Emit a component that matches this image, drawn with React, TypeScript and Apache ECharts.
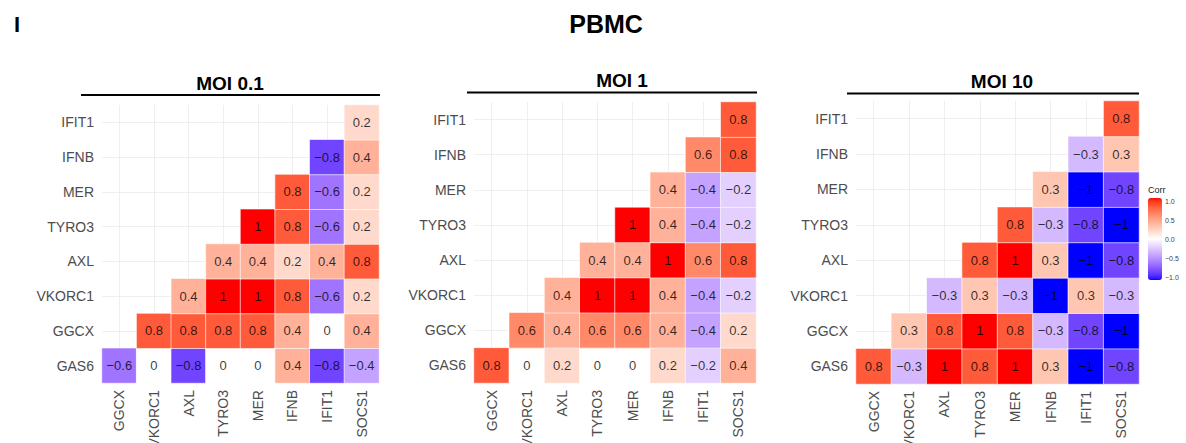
import React, { useEffect, useRef } from "react";
import * as echarts from "echarts";

// ---------- DATA ----------
const xCats = ["GGCX", "VKORC1", "AXL", "TYRO3", "MER", "IFNB", "IFIT1", "SOCS1"];
const yCats = ["GAS6", "GGCX", "VKORC1", "AXL", "TYRO3", "MER", "IFNB", "IFIT1"];

// each row (bottom GAS6 -> top IFIT1) starts at column index == row index
const moi01: number[][] = [
  [-0.6, 0, -0.8, 0, 0, 0.4, -0.8, -0.4],
  [0.8, 0.8, 0.8, 0.8, 0.4, 0, 0.4],
  [0.4, 1, 1, 0.8, -0.6, 0.2],
  [0.4, 0.4, 0.2, 0.4, 0.8],
  [1, 0.8, -0.6, 0.2],
  [0.8, -0.6, 0.2],
  [-0.8, 0.4],
  [0.2],
];
const moi1: number[][] = [
  [0.8, 0, 0.2, 0, 0, 0.2, -0.2, 0.4],
  [0.6, 0.4, 0.6, 0.6, 0.4, -0.4, 0.2],
  [0.4, 1, 1, 0.4, -0.4, -0.2],
  [0.4, 0.4, 1, 0.6, 0.8],
  [1, 0.4, -0.4, -0.2],
  [0.4, -0.4, -0.2],
  [0.6, 0.8],
  [0.8],
];
const moi10: number[][] = [
  [0.8, -0.3, 1, 0.8, 1, 0.3, -1, -0.8],
  [0.3, 0.8, 1, 0.8, -0.3, -0.8, -1],
  [-0.3, 0.3, -0.3, -1, 0.3, -0.3],
  [0.8, 1, 0.3, -1, -0.8],
  [0.8, -0.3, -0.8, -1],
  [0.3, -1, -0.8],
  [-0.3, 0.3],
  [0.8],
];
const panelTitles = ["MOI 0.1", "MOI 1", "MOI 10"];
const panelData = [moi01, moi1, moi10];
const legendTicks = [1.0, 0.5, 0.0, -0.5, -1.0];

// ---------- LAYOUT ----------
const panels = [
  { left: 102, top: 105, width: 277, height: 278, titleX: 230, titleY: 83, lineX1: 81, lineX2: 380, lineY: 95 },
  { left: 474, top: 102, width: 282, height: 281, titleX: 622, titleY: 80, lineX1: 467, lineX2: 757, lineY: 92.5 },
  { left: 856, top: 101, width: 283, height: 283, titleX: 1002, titleY: 81.5, lineX1: 847, lineX2: 1139, lineY: 93.5 },
];
const FONT = '"Liberation Sans", Arial, Helvetica, sans-serif';

// ---------- Lab colour interpolation (like ggplot's gradient2) ----------
function toLin(c: number) {
  c /= 255;
  return c <= 0.04045 ? c / 12.92 : Math.pow((c + 0.055) / 1.055, 2.4);
}
function fromLin(c: number) {
  const v = c <= 0.0031308 ? 12.92 * c : 1.055 * Math.pow(c, 1 / 2.4) - 0.055;
  return Math.max(0, Math.min(255, Math.round(v * 255)));
}
const XN = 0.95047, YN = 1, ZN = 1.08883;
function rgbToLab(rgb: number[]) {
  const [r, g, b] = rgb.map(toLin);
  const X = 0.4124 * r + 0.3576 * g + 0.1805 * b;
  const Y = 0.2126 * r + 0.7152 * g + 0.0722 * b;
  const Z = 0.0193 * r + 0.1192 * g + 0.9505 * b;
  const f = (t: number) => (t > 0.008856 ? Math.cbrt(t) : 7.787 * t + 16 / 116);
  const fx = f(X / XN), fy = f(Y / YN), fz = f(Z / ZN);
  return [116 * fy - 16, 500 * (fx - fy), 200 * (fy - fz)];
}
function labToHex(lab: number[]) {
  const [L, a, b] = lab;
  const fy = (L + 16) / 116;
  const fx = fy + a / 500;
  const fz = fy - b / 200;
  const finv = (t: number) => (t * t * t > 0.008856 ? t * t * t : (t - 16 / 116) / 7.787);
  const X = finv(fx) * XN, Y = finv(fy) * YN, Z = finv(fz) * ZN;
  const r = 3.2406 * X - 1.5372 * Y - 0.4986 * Z;
  const g = -0.9689 * X + 1.8758 * Y + 0.0415 * Z;
  const bb = 0.0557 * X - 0.204 * Y + 1.057 * Z;
  const h = (v: number) => fromLin(v).toString(16).padStart(2, "0");
  return "#" + h(r) + h(g) + h(bb);
}
const LAB_W = rgbToLab([255, 255, 255]);
const LAB_R = rgbToLab([255, 0, 0]);
const LAB_B = rgbToLab([0, 0, 255]);
function corrColor(v: number) {
  const t = Math.abs(v);
  const end = v < 0 ? LAB_B : LAB_R;
  return labToHex(LAB_W.map((w, i) => w + (end[i] - w) * t));
}
const colorStops: string[] = [];
for (let i = 0; i <= 40; i++) colorStops.push(corrColor(-1 + i * 0.05));

function fmt(v: number) {
  return (v < 0 ? "\u2212" : "") + String(Math.abs(v));
}

export default function App() {
  const ref = useRef<HTMLDivElement>(null);
  useEffect(() => {
    document.body.style.margin = "0";
    const chart = echarts.init(ref.current!, null, { renderer: "svg" });

    const grids = panels.map((p) => ({
      left: p.left,
      top: p.top,
      width: p.width,
      height: p.height,
      containLabel: false,
      outerBoundsMode: "none",
    }));
    const xAxes = panels.map((_, i) => ({
      type: "category",
      gridIndex: i,
      data: xCats,
      axisLine: { show: false },
      axisTick: { show: false },
      axisLabel: { rotate: 90, fontSize: 14, color: "#4d4d4d", margin: 7, fontFamily: FONT, hideOverlap: false },
      splitLine: { show: true, alignWithLabel: true, lineStyle: { color: "#ebebeb", width: 0.8 } },
    }));
    const yAxes = panels.map((_, i) => ({
      type: "category",
      gridIndex: i,
      data: yCats,
      axisLine: { show: false },
      axisTick: { show: false },
      axisLabel: { fontSize: 14, color: "#4d4d4d", margin: 8, fontFamily: FONT },
      splitLine: { show: true, alignWithLabel: true, lineStyle: { color: "#ebebeb", width: 0.8 } },
    }));
    const series = panelData.map((rows, i) => {
      const data: number[][] = [];
      rows.forEach((vals, r) => vals.forEach((v, k) => data.push([r + k, r, v])));
      return {
        type: "heatmap",
        xAxisIndex: i,
        yAxisIndex: i,
        data,
        itemStyle: { borderColor: "#ffffff", borderWidth: 0.6 },
        label: {
          show: true,
          fontSize: 13,
          fontFamily: FONT,
          color: "rgba(0,0,0,0.78)",
          formatter: (p: any) => fmt(p.value[2]),
        },
      };
    });

    const barTop = 198, barH = 82, labTop = 201, labBot = 277, barLeft = 1148, barW = 14;
    const graphic: any[] = [
      { type: "text", x: 14, y: 24, style: { text: "I", font: `bold 22px ${FONT}`, fill: "#000", verticalAlign: "middle" } },
      { type: "text", x: 606, y: 24, style: { text: "PBMC", font: `bold 25px ${FONT}`, fill: "#000", align: "center", verticalAlign: "middle" } },
      { type: "text", x: barLeft, y: 190, style: { text: "Corr", font: `9px ${FONT}`, fill: "#222", verticalAlign: "middle" } },
    ];
    panels.forEach((p, i) => {
      graphic.push({
        type: "text",
        x: p.titleX,
        y: p.titleY,
        style: { text: panelTitles[i], font: `bold 19px ${FONT}`, fill: "#000", align: "center", verticalAlign: "middle" },
      });
      graphic.push({
        type: "line",
        shape: { x1: p.lineX1, y1: p.lineY, x2: p.lineX2, y2: p.lineY },
        style: { stroke: "#000", lineWidth: 2 },
      });
    });
    legendTicks.forEach((t) => {
      const y = labTop + ((1 - t) / 2) * (labBot - labTop);
      graphic.push({
        type: "text",
        x: barLeft + barW + 3,
        y,
        style: { text: t.toFixed(1).replace("-", "\u2212"), font: `7px ${FONT}`, fill: "#444", verticalAlign: "middle" },
      });
    });

    chart.setOption({
      animation: false,
      grid: grids,
      xAxis: xAxes,
      yAxis: yAxes,
      visualMap: {
        type: "continuous",
        min: -1,
        max: 1,
        seriesIndex: [0, 1, 2],
        dimension: 2,
        calculable: false,
        show: true,
        left: barLeft,
        top: barTop,
        padding: 0,
        itemWidth: barW,
        itemHeight: barH,
        text: null,
        showLabel: false,
        inRange: { color: colorStops },
      },
      series,
      graphic,
    });
    return () => chart.dispose();
  }, []);
  return <div ref={ref} style={{ width: 1186, height: 443 }} />;
}
